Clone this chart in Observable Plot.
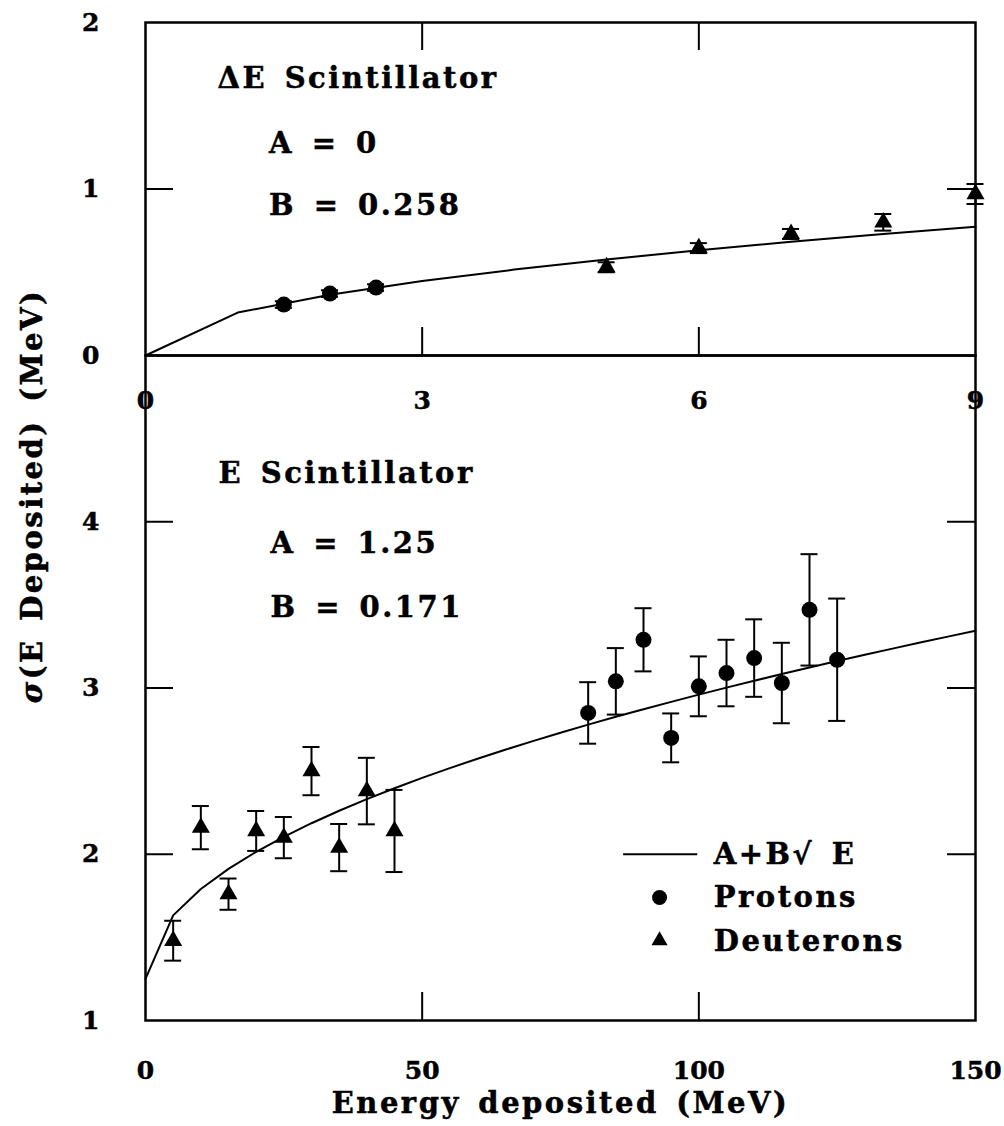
<!DOCTYPE html>
<html>
<head>
<meta charset="utf-8">
<script src="https://cdn.jsdelivr.net/npm/d3@7"></script>
<script src="https://cdn.jsdelivr.net/npm/@observablehq/plot@0.6"></script>
<style>
  body { margin: 0; background: #fff; }
  #chart { position: relative; width: 1004px; height: 1126px; }
  #chart svg { position: absolute; left: 0; top: 0; }
</style>
</head>
<body>
<div id="chart"></div>
<script>
// ---- ΔE scintillator (upper panel) ----
const deProtonE = [1.5, 2.0, 2.5];
const deProtonSigma = [0.306, 0.372, 0.408];
const deProtonErr = [0.02, 0.02, 0.02];
const deDeuteronE = [5, 6, 7, 8, 9];
const deDeuteronSigma = [0.53, 0.645, 0.73, 0.80, 0.97];
const deDeuteronErr = [0.03, 0.03, 0.03, 0.05, 0.06];
const deA = 0;
const deB = 0.258;
const deFitE = [0, 1, 2, 3, 4, 5, 6, 7, 8, 9];
const deXTicks = [0, 3, 6, 9];
const deYTicks = [0, 1, 2];

// ---- E scintillator (lower panel) ----
const eProtonE = [80, 85, 90, 95, 100, 105, 110, 115, 120, 125];
const eProtonSigma = [2.85, 3.04, 3.29, 2.70, 3.01, 3.09, 3.18, 3.03, 3.47, 3.17];
const eProtonErr = [0.185, 0.20, 0.19, 0.147, 0.18, 0.20, 0.233, 0.242, 0.335, 0.368];
const eDeuteronE = [5, 10, 15, 20, 25, 30, 35, 40, 45];
const eDeuteronSigma = [1.48, 2.16, 1.76, 2.14, 2.10, 2.50, 2.04, 2.38, 2.14];
const eDeuteronErr = [0.12, 0.13, 0.094, 0.12, 0.124, 0.145, 0.142, 0.20, 0.247];
const eA = 1.25;
const eB = 0.171;
const eFitE = d3.range(0, 155, 5); // fit evaluated every 5 MeV
const eXTicks = [0, 50, 100, 150];
const eYTicks = [1, 2, 3, 4];

const xLabel = "Energy deposited (MeV)";
const yLabel = "σ(E Deposited) (MeV)";
const legendLabels = ["A+B√ E", "Protons", "Deuterons"];

// ---- build tables ----
const rows = (E, S, Err) => E.map((e, i) => ({e, s: S[i], err: Err[i]}));
const fit = (E, A, B) => E.map(e => ({e, s: A + B * Math.sqrt(e)}));

const W = 1004, H = 1126;
const frameLeft = 145, frameRight = 975, frameTop = 22, divider = 355, frameBottom = 1020;
const TICK = 28;
const SW = 2;
const FS = 29;       // annotation lettering
const TFS = 25;      // tick numbers

const baseStyle = {
  fontFamily: "'DejaVu Serif', serif",
  fontWeight: "bold",
  fontSize: "24px",
  color: "#000",
  background: "transparent",
  overflow: "visible"
};

function errorBars(data) {
  return [
    Plot.ruleX(data, {x: "e", y1: d => d.s - d.err, y2: d => d.s + d.err, strokeWidth: SW}),
    Plot.ruleY(data, {y: d => d.s - d.err, x1: "e", x2: "e", insetLeft: -8.5, insetRight: -8.5, strokeWidth: SW}),
    Plot.ruleY(data, {y: d => d.s + d.err, x1: "e", x2: "e", insetLeft: -8.5, insetRight: -8.5, strokeWidth: SW})
  ];
}

const label = (data, opts) => Plot.text(data, {textAnchor: "start", lineAnchor: "middle", fontSize: FS, ...opts});

const deP = rows(deProtonE, deProtonSigma, deProtonErr);
const deD = rows(deDeuteronE, deDeuteronSigma, deDeuteronErr);
const eP = rows(eProtonE, eProtonSigma, eProtonErr);
const eD = rows(eDeuteronE, eDeuteronSigma, eDeuteronErr);

// upper panel: ΔE scintillator
const topPlot = Plot.plot({
  width: W, height: H,
  marginLeft: frameLeft, marginRight: W - frameRight,
  marginTop: frameTop, marginBottom: H - divider,
  x: {domain: [0, 9]},
  y: {domain: [0, 2]},
  style: baseStyle,
  marks: [
    Plot.frame({strokeWidth: 2.5}),
    // inward ticks
    Plot.ruleX([3, 6], {y1: 2, y2: 2, insetBottom: -TICK, strokeWidth: SW}),
    Plot.ruleX([3, 6], {y1: 0, y2: 0, insetTop: -TICK, strokeWidth: SW}),
    Plot.ruleY([1], {x1: 0, x2: 0, insetRight: -TICK, strokeWidth: SW}),
    Plot.ruleY([1], {x1: 9, x2: 9, insetLeft: -TICK, strokeWidth: SW}),
    Plot.axisX({ticks: deXTicks, tickSize: 0, tickPadding: 36, fontSize: TFS, label: null, tickFormat: d => String(d)}),
    Plot.axisY({ticks: deYTicks, tickSize: 0, tickPadding: 46, fontSize: TFS, label: null, tickFormat: d => String(d)}),
    Plot.line(fit(deFitE, deA, deB), {x: "e", y: "s", strokeWidth: SW}),
    ...errorBars(deP),
    ...errorBars(deD),
    Plot.dot(deP, {x: "e", y: "s", symbol: "circle", r: 8, fill: "black", stroke: "none"}),
    Plot.dot(deD, {x: "e", y: "s", symbol: "triangle", r: 6.7, fill: "black", stroke: "none"}),
    label(["ΔE Scintillator"], {x: 0.78, y: 1.66}),
    label([`A = ${deA}`], {x: 1.34, y: 1.27}),
    label([`B = ${deB}`], {x: 1.34, y: 0.9})
  ]
});

// lower panel: E scintillator
const botPlot = Plot.plot({
  width: W, height: H,
  marginLeft: frameLeft, marginRight: W - frameRight,
  marginTop: divider, marginBottom: H - frameBottom,
  x: {domain: [0, 150]},
  y: {domain: [1, 5]},
  style: baseStyle,
  marks: [
    Plot.frame({strokeWidth: 2.5}),
    Plot.ruleX([50, 100], {y1: 1, y2: 1, insetTop: -TICK, strokeWidth: SW}),
    Plot.ruleY([2, 3, 4], {x1: 0, x2: 0, insetRight: -TICK, strokeWidth: SW}),
    Plot.ruleY([2, 3, 4], {x1: 150, x2: 150, insetLeft: -TICK, strokeWidth: SW}),
    Plot.axisX({ticks: eXTicks, tickSize: 0, tickPadding: 41, fontSize: TFS, label: null, tickFormat: d => String(d)}),
    Plot.axisY({ticks: eYTicks, tickSize: 0, tickPadding: 46, fontSize: TFS, label: null, tickFormat: d => String(d)}),
    Plot.line(fit(eFitE, eA, eB), {x: "e", y: "s", strokeWidth: SW}),
    ...errorBars(eP),
    ...errorBars(eD),
    Plot.dot(eP, {x: "e", y: "s", symbol: "circle", r: 8, fill: "black", stroke: "none"}),
    Plot.dot(eD, {x: "e", y: "s", symbol: "triangle", r: 6.7, fill: "black", stroke: "none"}),
    label(["E Scintillator"], {x: 13.2, y: 4.29}),
    label([`A = ${eA}`], {x: 22.6, y: 3.87}),
    label([`B = ${eB}`], {x: 22.6, y: 3.48}),
    // legend
    Plot.ruleY([2.0], {x1: 86.4, x2: 99.8, strokeWidth: SW}),
    Plot.dot([0], {x: 92.9, y: 1.74, symbol: "circle", r: 7.5, fill: "black", stroke: "none"}),
    Plot.dot([0], {x: 92.9, y: 1.48, symbol: "triangle", r: 6, fill: "black", stroke: "none"}),
    label(legendLabels, {x: 102.7, y: (d, i) => [2.0, 1.74, 1.475][i]}),
    // axis titles
    Plot.text([xLabel], {frameAnchor: "bottom", dy: 83, textAnchor: "middle", lineAnchor: "middle", fontSize: FS}),
    Plot.text([yLabel], {frameAnchor: "left", dx: -113, dy: -192, rotate: -90, textAnchor: "middle", lineAnchor: "middle", fontSize: FS})
  ]
});

const chart = document.getElementById("chart");
chart.append(topPlot, botPlot);

// spaced, heavy lettering; italic sigma in the axis title
for (const svg of [topPlot, botPlot]) {
  svg.querySelectorAll('g[aria-label="text"]').forEach(g => {
    g.setAttribute("letter-spacing", "2.5");
    g.setAttribute("word-spacing", "5");
  });
  svg.querySelectorAll("text").forEach(t => {
    t.setAttribute("stroke", "black");
    t.setAttribute("stroke-width", "0.5");
  });
  svg.querySelectorAll('g[aria-label="text"] text').forEach(t => {
    if (t.textContent === yLabel) {
      t.textContent = "";
      const s = document.createElementNS("http://www.w3.org/2000/svg", "tspan");
      s.setAttribute("font-style", "italic");
      s.textContent = yLabel[0];
      t.appendChild(s);
      t.appendChild(document.createTextNode(yLabel.slice(1)));
    }
  });
}
</script>
</body>
</html>
